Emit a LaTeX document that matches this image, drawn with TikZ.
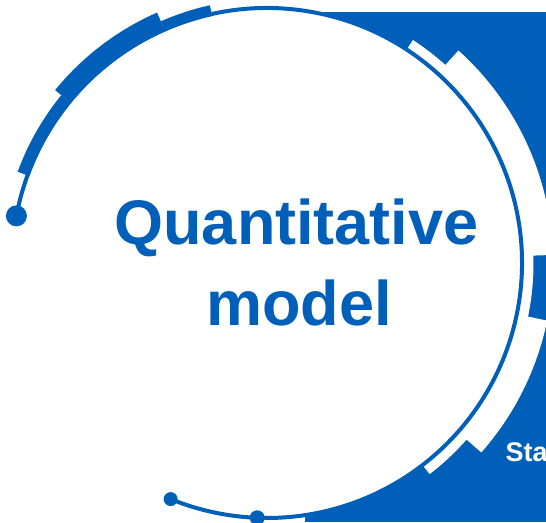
\documentclass[tikz,border=0pt]{standalone}
\usepackage{fontspec}
\setmainfont{Liberation Sans}
\usetikzlibrary{calc}
\definecolor{qblue}{RGB}{0,95,184}
\tikzset{
  thinring/.style={draw=qblue, line width=4},
  bluebar/.style={draw=qblue},
  whitebar/.style={draw=white},
  dotfill/.style={fill=qblue},
  titletext/.style={text=qblue, font=\bfseries\fontsize{63}{70}\selectfont, inner sep=0pt, anchor=base},
  smalltext/.style={text=white, font=\bfseries\fontsize{27}{30}\selectfont, inner sep=0pt, anchor=base west}
}
\begin{document}
\begin{tikzpicture}[x=1pt,y=1pt]
\useasboundingbox (0,0) rectangle (546,522);
\begin{scope}
\clip (0,0) rectangle (546,522);
% blue background
\fill[qblue] (305,0) rectangle (546,510);
\coordinate (O) at (267,259);
% white disc
\fill[white] (O) circle (255);
% white bands on the blue
\draw[whitebar, line width=12.5] (O) ++(56.8:260.25) arc[start angle=56.8, end angle=-52.4, radius=260.25];
\draw[whitebar, line width=32] (O) ++(48:270) arc[start angle=48, end angle=1.6, radius=270];
\draw[whitebar, line width=32] (O) ++(-11.6:270) arc[start angle=-11.6, end angle=-41.5, radius=270];
% thin ring
\draw[thinring] (O) ++(169.35:255) arc[start angle=169.35, end angle=-112.2, radius=255];
% thick blue bars on the left
\draw[bluebar, line width=12.5] (O) ++(159.9:259.25) arc[start angle=159.9, end angle=140.8, radius=259.25];
\draw[bluebar, line width=20.5] (O) ++(140.8:263.25) arc[start angle=140.8, end angle=113.7, radius=263.25];
\draw[bluebar, line width=11] (O) ++(113.7:258.5) arc[start angle=113.7, end angle=102.5, radius=258.5];
% dots
\coordinate (d1) at ($(O)+(169.35:255)$);
\coordinate (d2) at ($(O)+(247.8:255)$);
\coordinate (d3) at ($(O)+(267.8:255)$);
\fill[dotfill] (d1) circle (10.5);
\fill[dotfill] (d2) circle (7);
\fill[dotfill] (d3) circle (7.5);
% texts
\node[titletext] (t1) at (296.5,277) {Quantitative};
\node[titletext] (t2) at (299,196.5) {model};
\node[smalltext] (t3) at (505.5,60.5) {Sta};
\end{scope}
\end{tikzpicture}
\end{document}
